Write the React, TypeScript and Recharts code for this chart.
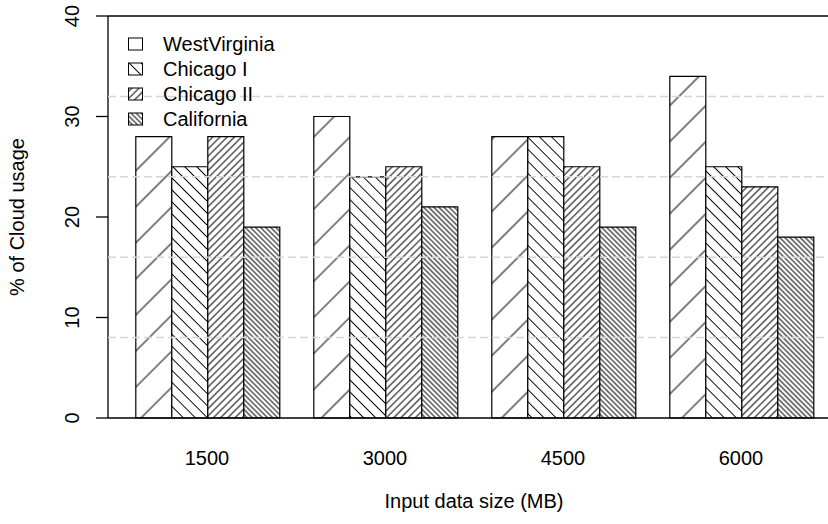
import { BarChart, Bar, XAxis, YAxis, ReferenceLine } from 'recharts'

const categories = ['1500', '3000', '4500', '6000']
const westVirginia = [28, 30, 28, 34]
const chicagoI = [25, 24, 28, 25]
const chicagoII = [28, 25, 25, 23]
const california = [19, 21, 19, 18]
const yTicks = [0, 10, 20, 30, 40]
const gridLevels = [8, 16, 24, 32]

const FONT = "'Liberation Sans', Arial, Helvetica, sans-serif"

// hatch: gap = distance between lines, angle = 45 for "/", -45 for "\"
const series = [
  { key: 'wv', name: 'WestVirginia', values: westVirginia, gap: 25.5, angle: 45 },
  { key: 'chi1', name: 'Chicago I', values: chicagoI, gap: 8.5, angle: -45 },
  { key: 'chi2', name: 'Chicago II', values: chicagoII, gap: 5.1, angle: 45 },
  { key: 'cal', name: 'California', values: california, gap: 3.6, angle: -45 },
]

const data = categories.map((size, i) => {
  const row: Record<string, string | number> = { size }
  series.forEach((s) => {
    row[s.key] = s.values[i]
  })
  return row
})

function YTick(props: any) {
  const { y, payload } = props
  return (
    <text
      x={79}
      y={y}
      transform={`rotate(-90, 79, ${y})`}
      textAnchor="middle"
      fontSize={20}
      fontFamily={FONT}
      fill="#000"
    >
      {payload.value}
    </text>
  )
}

function XTick(props: any) {
  const { x, payload } = props
  return (
    <text x={x} y={465} textAnchor="middle" fontSize={20} fontFamily={FONT} fill="#000">
      {payload.value}
    </text>
  )
}

function HatchLegend() {
  return (
    <svg
      width={828}
      height={524}
      style={{ position: 'absolute', left: 0, top: 0, pointerEvents: 'none' }}
    >
      {series.map((s, i) => {
        const cy = 44 + i * 25
        return (
          <g key={s.key}>
            <rect
              x={128.5}
              y={cy - 6}
              width={14}
              height={12}
              fill={`url(#hatch-${s.key})`}
              stroke="#000"
              strokeWidth={1}
            />
            <text x={163} y={cy + 7} fontSize={20} fontFamily={FONT} fill="#000">
              {s.name}
            </text>
          </g>
        )
      })}
    </svg>
  )
}

export default function App() {
  return (
    <div
      style={{
        position: 'absolute',
        left: 0,
        top: 0,
        width: 828,
        height: 524,
        overflow: 'hidden',
        background: '#fff',
      }}
    >
      <BarChart
        width={840}
        height={524}
        data={data}
        margin={{ top: 16, right: 0, bottom: 0, left: 0 }}
        barGap={0}
        barCategoryGap="10%"
      >
        <defs>
          {series.map((s) => (
            <pattern
              key={s.key}
              id={`hatch-${s.key}`}
              patternUnits="userSpaceOnUse"
              width={s.gap}
              height={s.gap}
              patternTransform={`rotate(${s.angle})`}
            >
              <rect width={s.gap} height={s.gap} fill="#fff" />
              <line x1={s.gap / 2} y1={0} x2={s.gap / 2} y2={s.gap} stroke="#000" strokeWidth={1} />
            </pattern>
          ))}
        </defs>
        <XAxis
          dataKey="size"
          height={106}
          padding={{ left: 10, right: 10 }}
          tickLine={false}
          axisLine={{ stroke: '#000', strokeWidth: 1.3 }}
          tick={<XTick />}
          label={{
            value: 'Input data size (MB)',
            position: 'insideBottom',
            offset: 16,
            fill: '#000',
            fontSize: 20,
            fontFamily: FONT,
          }}
        />
        <YAxis
          width={108}
          domain={[0, 40]}
          ticks={yTicks}
          tickSize={12}
          tickLine={{ stroke: '#000', strokeWidth: 1.3 }}
          axisLine={{ stroke: '#000', strokeWidth: 1.3 }}
          tick={<YTick />}
          label={{
            value: '% of Cloud usage',
            angle: -90,
            position: 'insideLeft',
            offset: 0,
            content: () => (
              <text
                x={24}
                y={217}
                transform="rotate(-90, 24, 217)"
                textAnchor="middle"
                fontSize={20}
                fontFamily={FONT}
                fill="#000"
              >
                % of Cloud usage
              </text>
            ),
          }}
        />
        {series.map((s) => (
          <Bar
            key={s.key}
            dataKey={s.key}
            name={s.name}
            fill={`url(#hatch-${s.key})`}
            stroke="#000"
            strokeWidth={1.2}
            isAnimationActive={false}
          />
        ))}
        <ReferenceLine y={40} stroke="#000" strokeWidth={1.3} />
        {/* dashed guides sit on top of the bars */}
        {gridLevels.map((v) => (
          <ReferenceLine
            key={v}
            y={v}
            stroke="#d6d6d6"
            strokeWidth={1.5}
            strokeDasharray="8 4"
            zIndex={700}
          />
        ))}
      </BarChart>
      <HatchLegend />
    </div>
  )
}
